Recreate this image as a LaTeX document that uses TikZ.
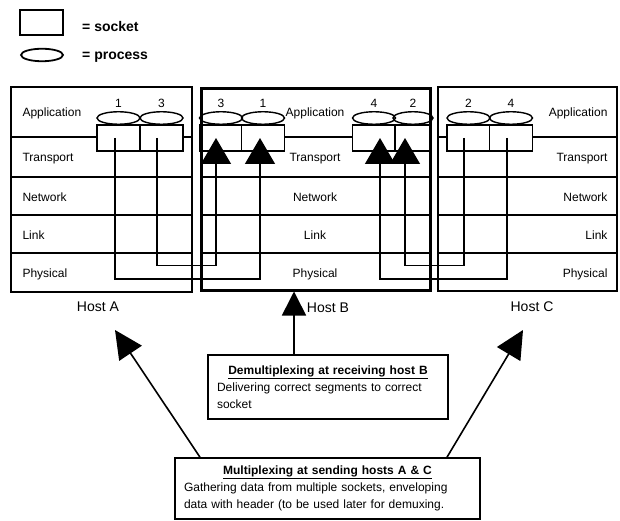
\documentclass[tikz,border=0pt]{standalone}
\usepackage{fontspec}
\setmainfont{Liberation Sans}
\usetikzlibrary{arrows.meta,shapes.geometric}
\tikzset{>={Triangle[width=30pt,length=26pt]},
  every node/.style={font=\fontsize{12}{17}\selectfont},
  hostline/.style={line width=1.4pt},
  hostBline/.style={line width=2.6pt},
  wire/.style={line width=1.3pt},
  bigline/.style={line width=1.6pt},
  socket/.style={draw, line width=1.4pt, fill=white, minimum width=43pt, minimum height=26pt, inner sep=0pt},
  process/.style={draw, ellipse, line width=1.4pt, minimum width=43pt, minimum height=12.5pt, inner sep=0pt},
  note/.style={draw, line width=1.6pt, inner xsep=9pt, inner ysep=0pt},
  hostname/.style={font=\fontsize{14}{16}\selectfont},
  keytext/.style={anchor=base west, inner sep=0pt, font=\fontsize{14}{16}\selectfont\bfseries}}

\begin{document}
\begin{tikzpicture}[x=1pt,y=-1pt]
\useasboundingbox (0,0) rectangle (620,521);

% legend
\node[socket, minimum height=25pt, line width=1.8pt] (keysock) at (41.5,22.5) {};
\node[process, minimum width=42pt, line width=1.8pt] (keyproc) at (42,55) {};
\node[keytext] (keysocktxt) at (82,32) {= socket};
\node[keytext] (keyproctxt) at (82,60) {= process};

% hosts A and C, rows
\node[draw, hostline, minimum width=181pt, minimum height=205pt, inner sep=0pt] (hostA) at (101.5,189.5) {};
\node[draw, hostline, minimum width=179pt, minimum height=204pt, inner sep=0pt] (hostC) at (527.5,189) {};
\foreach \y in {137,177,215,253} {
  \draw[hostline] (11,\y) -- (192,\y);
  \draw[hostline] (438,\y) -- (617,\y);
  \draw[hostBline] (201.5,\y) -- (430,\y);
}

% layer names
\foreach \y/\layer in {117/Application,162/Transport,201/Network,239/Link,277.5/Physical} {
  \node[anchor=base west] (A\layer) at (19,\y) {\layer};
  \node[anchor=base] (B\layer) at (315,\y) {\layer};
  \node[anchor=base east] (C\layer) at (611,\y) {\layer};
}

% sockets and processes
\foreach \n/\x/\d in {A1/118.5/1, A3/161.5/3, B3/221/3, B1/263/1, B4/374/4, C2/468.5/2, C4/511/4} {
  \node[socket] (s\n) at (\x,138) {};
  \node[process, label=above:\d] (p\n) at (\x,118) {};
}
\node[socket, minimum width=36pt] (sB2) at (413,138) {};
\node[process, minimum width=40pt, label=above:2] (pB2) at (413,118) {};

% host B on top
\node[draw, line width=3pt, minimum width=228.5pt, minimum height=201.5pt, inner sep=0pt] (hostB) at (315.75,189.25) {};

% wires from A and C into B
\coordinate (upper) at (0,265.5);
\coordinate (lower) at (0,279);
\coordinate (tB3) at ([xshift=-5pt]sB3.center);
\coordinate (tB1) at ([xshift=-3pt]sB1.center);
\coordinate (tB4) at ([xshift=6pt]sB4.center);
\coordinate (tB2) at ([xshift=-8pt]sB2.center);
\draw[wire,->] ([xshift=-3.5pt]sA1.center) |- (lower -| tB1) -- (tB1);
\draw[wire,->] ([xshift=-4.5pt]sA3.center) |- (upper -| tB3) -- (tB3);
\draw[wire,->] ([xshift=-4.5pt]sC2.center) |- (upper -| tB2) -- (tB2);
\draw[wire,->] ([xshift=-4pt]sC4.center) |- (lower -| tB4) -- (tB4);

\node[hostname] (nameA) at (98,307) {Host A};
\node[hostname] (nameB) at (328,308) {Host B};
\node[hostname] (nameC) at (532,307) {Host C};

% notes
\node[note, text width=222pt, minimum height=64pt] (demux) at (328,387)
  {\centering\underline{\textbf{Demultiplexing at receiving host B}}\par
   \raggedright Delivering correct segments to correct\\socket};
\node[note, text width=287pt, minimum height=61pt] (mux) at (327.5,488.5)
  {\centering\underline{\textbf{Multiplexing at sending hosts A \& C}}\par
   \raggedright Gathering data from multiple sockets, enveloping\\data with header (to be used later for demuxing.};

\coordinate (tipB) at ([xshift=-21.75pt]hostB.south);
\coordinate (tipA) at (115,330);
\coordinate (tipC) at (523,330);
\draw[bigline, -{Triangle[width=24pt,length=24pt]}] (demux.north -| tipB) -- (tipB);
\draw[bigline, -{Triangle[width=27pt,length=28pt]}] ([xshift=-127.5pt]mux.north) -- (tipA);
\draw[bigline, -{Triangle[width=27pt,length=28pt]}] ([xshift=119.5pt]mux.north) -- (tipC);
\end{tikzpicture}
\end{document}
